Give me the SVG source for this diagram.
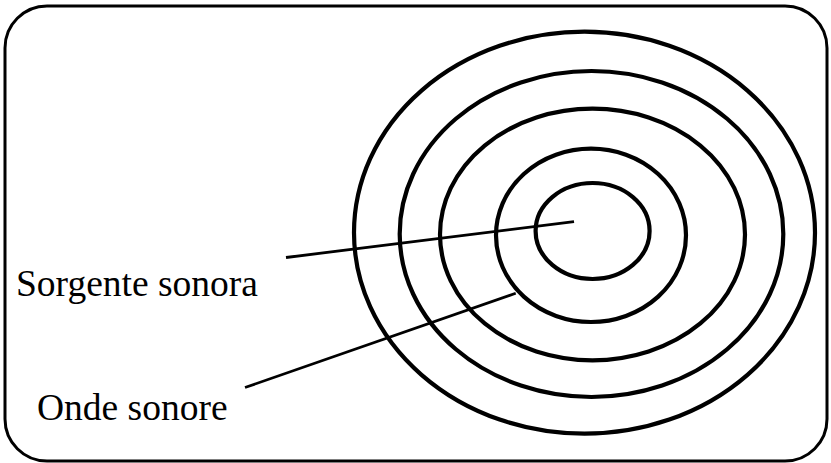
<svg xmlns="http://www.w3.org/2000/svg" width="831" height="463" viewBox="0 0 831 463">
<style>
.frame{fill:none;stroke:#000;stroke-width:3}
.wave{fill:none;stroke:#000;stroke-width:4.2}
.lead{fill:none;stroke:#000;stroke-width:2.8}
.lbl{font-family:"Liberation Serif","Times New Roman",serif;font-size:37.5px;fill:#000}
</style>
<rect class="frame" x="5" y="6" width="822" height="455" rx="42" ry="42"/>
<g id="waves">
<ellipse class="wave" cx="584.5" cy="232.7" rx="230.5" ry="201"/>
<ellipse class="wave" cx="591.5" cy="234" rx="191.8" ry="163"/>
<ellipse class="wave" cx="592.5" cy="234.5" rx="152.5" ry="125.8"/>
<ellipse class="wave" cx="591" cy="235.3" rx="95" ry="86.7"/>
<ellipse class="wave" cx="592.6" cy="231" rx="57" ry="48"/>
</g>
<g id="connectors">
<line class="lead" x1="286" y1="257.5" x2="574" y2="221.7"/>
<line class="lead" x1="245" y1="387.5" x2="515.7" y2="293.3"/>
</g>
<g id="label-sorgente"><text class="lbl" x="16" y="295.5">Sorgente sonora</text></g>
<g id="label-onde"><text class="lbl" x="37" y="419.5">Onde sonore</text></g>
</svg>
